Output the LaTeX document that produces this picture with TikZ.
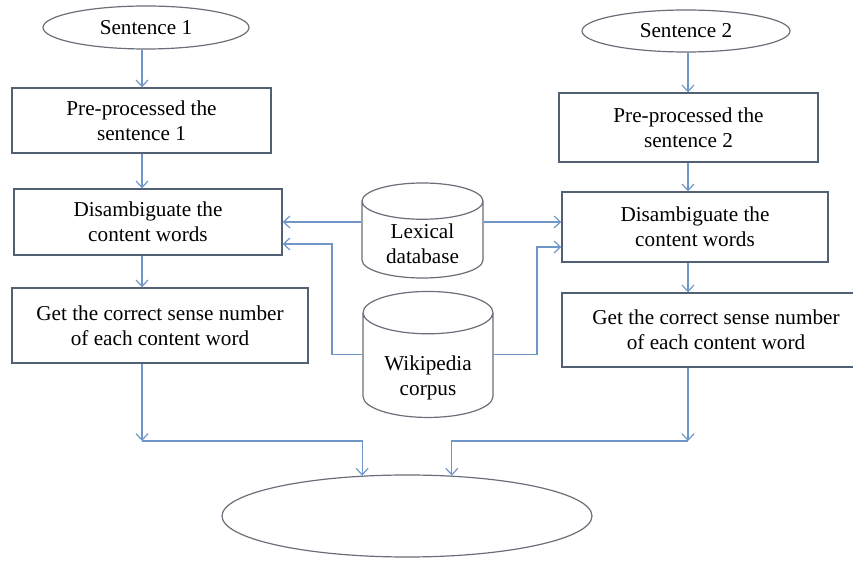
\documentclass[tikz,border=0pt]{standalone}
\usepackage{fontspec}
\setmainfont{Liberation Serif}
\usetikzlibrary{shapes.geometric,arrows.meta}
\definecolor{linec}{RGB}{112,150,200}
\definecolor{boxc}{RGB}{82,96,115}
\definecolor{shapec}{RGB}{105,110,120}
\tikzset{
  txt/.style={font=\fontsize{10.6}{12.5}\selectfont},
  box/.style={txt,draw=boxc,line width=0.7pt,align=center,inner sep=0pt},
  oval/.style={txt,ellipse,draw=shapec,line width=0.6pt,inner sep=0pt},
  db/.style={txt,cylinder,shape border rotate=90,aspect=0.42,draw=shapec,line width=0.6pt,align=center,inner ysep=0pt},
  arr/.style={draw=linec,line width=0.6pt,-{Straight Barb[length=3.2pt,width=6pt]}}
}

\begin{document}
\begin{tikzpicture}[x=0.5pt,y=-0.5pt]
  \useasboundingbox (0,0) rectangle (853,561);
  % 左边一列
  \node[oval,minimum width=103pt,minimum height=21.5pt] (s1) at (146,27.5) {Sentence 1};
  \node[box,minimum width=129.5pt,minimum height=32.5pt] (p1) at (141.5,120.5) {Pre-processed the\\sentence 1};
  \node[box,minimum width=134pt,minimum height=33pt] (d1) at (148,222) {Disambiguate the\\content words};
  \node[box,minimum width=148pt,minimum height=37.5pt] (g1) at (160,325.5) {Get the correct sense number\\of each content word};

  % 右边一列
  \node[oval,minimum width=104pt,minimum height=21pt] (s2) at (686,31) {Sentence 2};
  \node[box,minimum width=129.5pt,minimum height=34.5pt] (p2) at (688.5,127.5) {Pre-processed the\\sentence 2};
  \node[box,minimum width=133pt,minimum height=35pt] (d2) at (695,227) {Disambiguate the\\content words};
  \node[box,minimum width=154pt,minimum height=37pt] (g2) at (716,330) {Get the correct sense number\\of each content word};

  % 数据库
  \node[db,minimum width=60.5pt,minimum height=47.5pt,text height=21.75pt,text depth=2.25pt] (lex) at (422.5,244) {Lexical\\database};
  \node[db,minimum width=65pt,minimum height=63pt,text height=30pt,text depth=4pt] (wiki) at (428,370) {Wikipedia\\corpus};

  \node[oval,minimum width=185pt,minimum height=41pt] (out) at (407,516) {};

  \coordinate (c1) at (142,0);
  \coordinate (c2) at (688,0);
  \coordinate (cl) at (142,441);
  \coordinate (cr) at (688,441);
  \coordinate (wl) at (332,244);
  \coordinate (wr) at (537,247);

  \draw[arr] (s1.south -| c1) -- (p1.north -| c1);
  \draw[arr] (p1.south -| c1) -- (d1.north -| c1);
  \draw[arr] (d1.south -| c1) -- (g1.north -| c1);
  \draw[arr] (g1.south -| c1) -- (cl);
  \draw[arr] (cl) -| (out.138);

  \draw[arr] (s2.south -| c2) -- (p2.north -| c2);
  \draw[arr] (p2.south -| c2) -- (d2.north -| c2);
  \draw[arr] (d2.south -| c2) -- (g2.north -| c2);
  \draw[arr] (g2.south -| c2) -- (cr);
  \draw[arr] (cr) -| (out.42);

  \draw[arr] (lex.west |- d1.east) -- (d1.east);
  \draw[arr] (lex.east |- d1.east) -- (d1.east -| d2.west);
  \draw[arr] (wiki.west |- wiki.shape center) -| (wl) -- (wl -| d1.east);
  \draw[arr] (wiki.east |- wiki.shape center) -| (wr) -- (wr -| d2.west);
\end{tikzpicture}
\end{document}
